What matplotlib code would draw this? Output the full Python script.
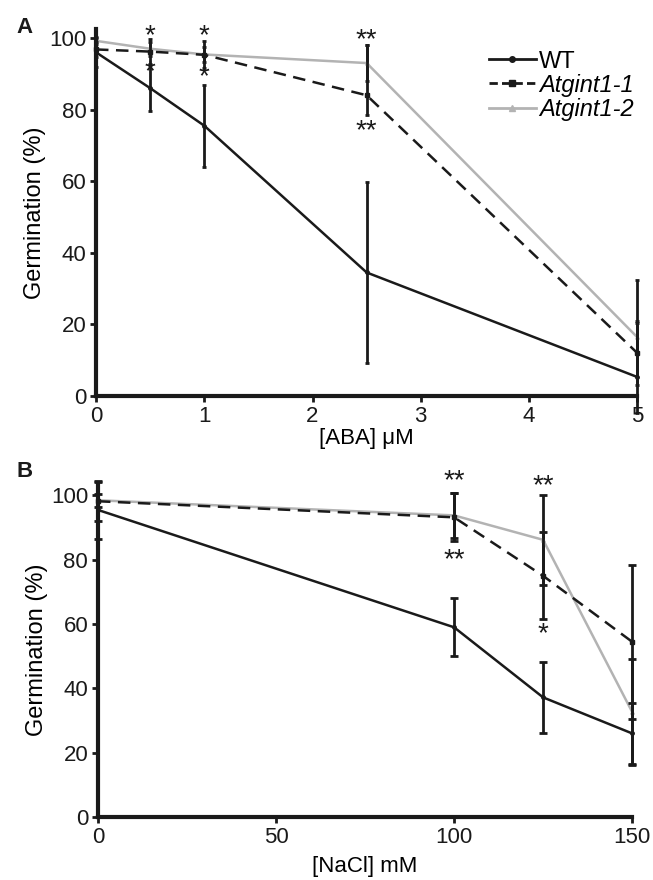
import numpy as np
import matplotlib.pyplot as plt
from matplotlib.lines import Line2D

plt.rcParams['font.family'] = ['Liberation Sans', 'DejaVu Sans']

# panel A: ABA
aba = [0, 0.5, 1, 2.5, 5]
aba_wt = [96, 86, 75.5, 34.5, 5.3]
aba_wt_up = [4, 6.5, 11.5, 25.3, 27]
aba_wt_lo = [4, 6.5, 11.5, 25.3, 10]
aba_g1 = [96.8, 96.2, 95.3, 84, 12]
aba_g1_up = [2, 3.5, 3.8, 14, 9]
aba_g1_lo = [2, 3.5, 3.8, 5.5, 9]
aba_g2 = [99.2, 97, 95.4, 93, 16.4]
aba_g2_up = [1, 2, 2, 5, 4]
aba_g2_lo = [1, 2, 2, 5, 4]

# panel B: NaCl
nacl = [0, 100, 125, 150]
nacl_wt = [95.5, 59, 37.2, 26]
nacl_wt_err = [9, 9, 11, 9.5]
nacl_g1 = [98.2, 93.2, 75, 54.5]
nacl_g1_err = [6, 7.5, 13.5, 24]
nacl_g2 = [98.5, 93.8, 86.2, 32.7]
nacl_g2_err = [2, 7, 14, 16.5]

labels = ["WT", "Atgint1-1", "Atgint1-2"]

gray = "#b3b3b3"
dark = "#1a1a1a"

fig = plt.figure(figsize=(6.53, 8.80), dpi=100)
axA = fig.add_axes([0.147, 0.55, 0.829, 0.417])
axB = fig.add_axes([0.150, 0.0716, 0.818, 0.38])


def draw(ax, x, series, capsize):
    (wt, wte), (g1, g1e), (g2, g2e) = series
    ax.errorbar(x, wt, yerr=wte, color=dark, ecolor=dark, lw=1.8, elinewidth=2,
                capsize=capsize, capthick=2, marker="o", ms=2.5,
                clip_on=False, zorder=3)
    ax.errorbar(x, g1, yerr=g1e, color=dark, ecolor=dark, lw=1.8, ls=(0, (5, 3)),
                elinewidth=2, capsize=capsize, capthick=2, marker="s", ms=2.5,
                clip_on=False, zorder=3)
    ax.errorbar(x, g2, yerr=g2e, color=gray, ecolor=dark, lw=1.8, elinewidth=2,
                capsize=capsize, capthick=2, marker="^", ms=2.5,
                clip_on=False, zorder=2)


def style(ax):
    for s in ["top", "right"]:
        ax.spines[s].set_visible(False)
    for s in ["left", "bottom"]:
        ax.spines[s].set_linewidth(3)
        ax.spines[s].set_color(dark)
    ax.tick_params(width=2, length=4, labelsize=16, colors=dark, pad=3)


draw(axA, aba, [(aba_wt, [aba_wt_lo, aba_wt_up]), (aba_g1, [aba_g1_lo, aba_g1_up]),
                (aba_g2, [aba_g2_lo, aba_g2_up])], 1.5)
axA.set_xlim(0, 5)
axA.set_ylim(0, 102.5)
axA.set_xticks([0, 1, 2, 3, 4, 5])
axA.set_yticks([0, 20, 40, 60, 80, 100])
axA.set_xlabel("[ABA] μM", fontsize=16, labelpad=1)
axA.set_ylabel("Germination (%)", fontsize=17, labelpad=2)
style(axA)
# significance marks
for xs, ys, t in [(0.5, 100.5, "*"), (0.5, 90.5, "*"), (1, 100.5, "*"), (1, 89, "*"),
                  (2.5, 99.5, "**"), (2.5, 74, "**")]:
    axA.text(xs, ys, t, ha="center", va="center", fontsize=20, color=dark)
handles = [
    Line2D([], [], color=dark, lw=2, marker="o", ms=4),
    Line2D([], [], color=dark, lw=2, ls=(0, (3, 1.5)), marker="s", ms=4),
    Line2D([], [], color=gray, lw=2, marker="^", ms=4),
]
leg = axA.legend(handles, labels, loc="upper right", bbox_to_anchor=(1.02, 0.98),
                 frameon=False, fontsize=17, handlelength=2.0, handletextpad=0.15,
                 labelspacing=0.05, borderaxespad=0.2)
for i, txt in enumerate(leg.get_texts()):
    if i > 0:
        txt.set_fontstyle("italic")

draw(axB, nacl, [(nacl_wt, nacl_wt_err), (nacl_g1, nacl_g1_err), (nacl_g2, nacl_g2_err)], 3)
axB.set_xlim(0, 150)
axB.set_ylim(0, 104)
axB.set_xticks([0, 50, 100, 150])
axB.set_yticks([0, 20, 40, 60, 80, 100])
axB.set_xlabel("[NaCl] mM", fontsize=16, labelpad=6)
axB.set_ylabel("Germination (%)", fontsize=17, labelpad=2)
style(axB)
for xs, ys, t in [(100, 104.5, "**"), (100, 80, "**"), (125, 103, "**"), (125, 57, "*")]:
    axB.text(xs, ys, t, ha="center", va="center", fontsize=20, color=dark)

fig.text(0.025, 0.969, "A", fontsize=16, fontweight="bold", va="center", color=dark)
fig.text(0.025, 0.464, "B", fontsize=16, fontweight="bold", va="center", color=dark)

fig.savefig("out.png", dpi=100)
